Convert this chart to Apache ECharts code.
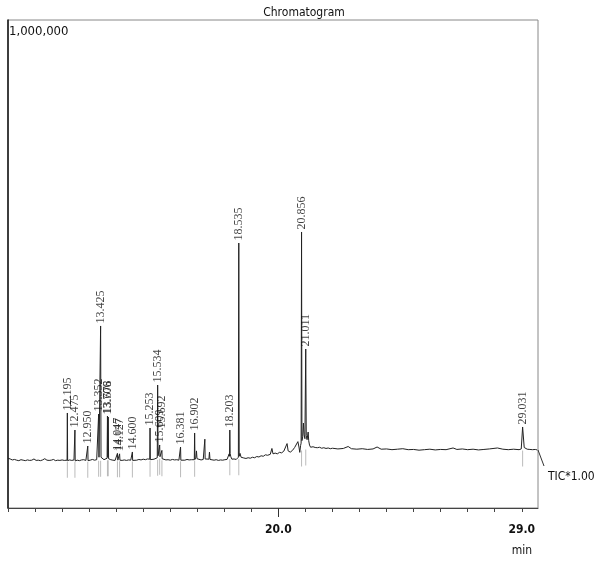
<!DOCTYPE html>
<html>
<head>
<meta charset="utf-8">
<script src="https://cdn.jsdelivr.net/npm/echarts@6/dist/echarts.min.js"></script>
<style>
html,body{margin:0;padding:0;background:#fff;}
#chart{width:600px;height:567px;}
</style>
</head>
<body>
<div id="chart"></div>
<script>
// ---- data ----
// TIC trace: [retention time (min), intensity]
const trace = [
[10.00,102000],[10.08,100500],[10.16,98500],[10.24,99500],[10.32,98000],[10.40,97000],[10.48,99000],[10.56,98000],[10.64,97000],[10.72,98500],[10.80,97500],[10.88,98000],[10.96,100500],[11.04,97500],[11.12,98000],[11.20,97000],[11.28,98500],[11.36,101000],[11.44,98000],[11.52,97500],[11.60,98000],[11.68,99500],[11.76,97000],[11.84,98000],[11.92,97500],[12.00,98500],[12.08,97500],[12.15,98000],
[12.185,98000],[12.195,194700],[12.205,97000],
[12.28,98500],[12.36,97500],[12.44,98500],
[12.465,98000],[12.475,159800],[12.485,96500],
[12.56,98000],[12.64,97000],[12.72,98500],[12.80,99000],[12.88,97500],
[12.94,98500],[12.950,127000],[12.96,97000],
[13.04,98000],[13.12,99500],[13.20,98000],[13.28,99000],
[13.34,101000],[13.352,192600],[13.365,104000],[13.40,103000],[13.425,373000],[13.44,104000],[13.48,100000],
[13.55,99000],[13.62,100500],
[13.665,102000],[13.678,188500],[13.69,104000],[13.706,186500],[13.72,101000],
[13.80,99000],[13.88,98000],[13.96,97500],[14.02,98500],
[14.04,99000],[14.047,112000],[14.06,98000],[14.10,100000],[14.127,111000],[14.14,98000],
[14.22,97500],[14.30,98500],[14.38,97500],[14.46,98500],[14.54,98000],
[14.59,98500],[14.600,114800],[14.61,97500],
[14.68,99000],[14.76,98000],[14.84,99500],[14.92,98500],[15.00,100000],[15.08,99000],[15.16,100500],[15.22,99000],
[15.243,100000],[15.253,163900],[15.263,99000],
[15.32,101000],[15.40,100000],[15.47,102000],
[15.52,103000],[15.534,252000],[15.55,107000],[15.575,110000],[15.59,106000],[15.609,129100],[15.62,105000],[15.65,108000],[15.67,103000],[15.692,118000],[15.70,101000],
[15.76,99500],[15.84,98500],[15.92,99000],[16.00,98000],[16.08,99500],[16.16,98500],[16.24,99000],[16.32,98000],
[16.37,98500],[16.381,125000],[16.392,98000],
[16.46,99000],[16.54,98000],[16.62,99500],[16.70,98500],[16.78,99000],[16.85,98500],
[16.89,99000],[16.902,153700],[16.914,99500],[16.95,104000],[16.97,117000],[16.99,101000],
[17.06,99000],[17.14,98500],[17.22,99500],
[17.27,100000],[17.28,141000],[17.29,100500],
[17.36,99000],[17.43,100000],[17.45,114500],[17.47,99500],
[17.54,98500],[17.62,98000],[17.70,99000],[17.78,97500],[17.86,98500],[17.94,98000],[18.02,99000],[18.10,99500],
[18.15,102000],[18.18,111000],[18.192,106000],[18.203,159800],[18.215,112000],[18.24,105000],[18.28,100000],
[18.36,100500],[18.44,99500],[18.50,102000],
[18.52,104000],[18.535,543000],[18.55,106000],[18.58,112000],[18.62,104000],[18.66,101000],
[18.72,102500],[18.80,101500],[18.88,103000],[18.96,102000],[19.04,104000],[19.12,103000],[19.20,105500],[19.28,104500],[19.36,107000],[19.44,106000],[19.52,109000],[19.60,108000],[19.66,112000],[19.70,110000],[19.76,122000],[19.80,111000],[19.88,112500],[19.96,111000],[20.04,114000],[20.12,113000],[20.20,116500],[20.26,118000],[20.32,132000],[20.36,117000],[20.44,114500],[20.52,118000],[20.60,124000],[20.66,122000],[20.72,136000],[20.76,125000],[20.79,114000],[20.82,128000],
[20.84,133000],[20.856,565600],[20.87,138000],[20.90,146000],[20.925,174000],[20.95,150000],[20.98,142000],[21.011,325800],[21.03,148000],[21.06,140000],[21.10,155700],[21.12,138000],[21.15,129000],[21.19,124500],
[21.28,125500],[21.36,124000],[21.44,123500],[21.52,124500],[21.60,122500],[21.68,123500],[21.76,122000],[21.84,123000],[21.92,121500],[22.00,122500],
[22.2,121000],[22.4,122000],[22.58,126000],[22.7,121500],[22.9,120500],[23.1,121500],[23.3,120000],[23.5,121000],[23.65,125000],[23.8,120500],[24.0,121000],[24.2,119500],[24.4,120500],[24.6,121500],[24.8,119500],[25.0,120000],[25.2,118500],[25.4,119500],[25.6,120500],[25.8,119000],[26.0,120000],[26.2,119500],[26.46,123000],[26.6,120000],[26.8,121000],[27.0,119500],[27.2,120500],[27.4,119000],[27.6,120000],[27.8,121000],[28.1,123000],[28.3,120500],[28.5,119500],[28.7,120500],[28.9,119500],
[28.98,121000],[29.031,166000],[29.09,124000],[29.12,121000],[29.2,120500],[29.3,120000],[29.4,119500],[29.5,120000],[29.57,119000]
];

// labelled peaks
const peakLabels  = ["12.195","12.475","12.950","13.352","13.425","13.678","13.706","14.047","14.127","14.600","15.253","15.534","15.609","15.692","16.381","16.902","18.203","18.535","20.856","21.011","29.031"];
const peakTimes   = [12.195,12.475,12.950,13.352,13.425,13.678,13.706,14.047,14.127,14.600,15.253,15.534,15.609,15.692,16.381,16.902,18.203,18.535,20.856,21.011,29.031];
const peakHeights = [194700,159800,127000,192600,373000,188500,186500,112000,111000,114800,163900,252000,129100,139300,125000,153700,159800,543000,565600,325800,166000];
const peakFoot    = [97000,97000,97000,99000,99000,100000,100000,98000,98000,97500,99000,101000,103000,100000,98000,99000,102000,102000,120000,122000,120000];
// label printed beside (not above) its peak to avoid overlap
const shiftedLabels = ["15.692"];

// axis ticks
const xTicks = [10,11,12,13,14,15,16,17,18,19,20,21,22,23,24,25,26,27,28,29];
const xLabelValues = [20,29];
const xLongTicks = [20];
const yMaxLabel = [1000000];

const narrow = "'Liberation Sans Narrow','DejaVu Sans Condensed','Arial Narrow',sans-serif";
const serif = "'Liberation Serif','DejaVu Serif',serif";

const peakPoints = peakTimes.map((t,i)=>[t, peakHeights[i], peakLabels[i]]);
const labelStyle = {show:true, formatter:p=>p.data[2], position:'top', distance:2, rotate:90, align:'left', verticalAlign:'middle', fontFamily:serif, fontSize:12, color:'#111'};

const chart = echarts.init(document.getElementById('chart'), null, {renderer:'canvas'});
chart.setOption({
  animation:false,
  backgroundColor:'#fff',
  grid:{left:8, right:62, top:20, bottom:59, show:true, borderColor:'#888', borderWidth:1},
  xAxis:[{
    type:'value', min:10, max:29.6,
    axisLine:{show:true, lineStyle:{color:'#444', width:1}},
    axisTick:{show:true, customValues:xTicks, length:4, lineStyle:{color:'#444'}},
    axisLabel:{show:true, customValues:xLabelValues, formatter:v=>Number(v).toFixed(1), fontSize:12, fontWeight:'bold', color:'#111', fontFamily:narrow, margin:16},
    splitLine:{show:false}
  },{
    type:'value', min:10, max:29.6, position:'bottom',
    axisLine:{show:false},
    axisTick:{show:true, customValues:xLongTicks, length:9, lineStyle:{color:'#333'}},
    axisLabel:{show:false},
    splitLine:{show:false}
  }],
  yAxis:{
    type:'value', min:0, max:1000000,
    axisLine:{show:true, lineStyle:{color:'#111', width:1.5}},
    axisTick:{show:false},
    splitLine:{show:false},
    axisLabel:{show:true, inside:true, customValues:yMaxLabel, formatter:()=> '1,000,000', verticalAlign:'top', padding:[5,0,0,0], margin:1, fontSize:13, color:'#111', fontFamily:narrow}
  },
  series:[{
    type:'line', data:trace, showSymbol:false, symbol:'none',
    lineStyle:{color:'#222', width:1}, z:3, silent:true
  },{
    type:'scatter', data:peakTimes.map((t,i)=>[t, peakFoot[i]]),
    symbol:'rect', symbolSize:[1,16], symbolOffset:[0,9],
    itemStyle:{color:'#aaa'}, z:2, silent:true
  },{
    type:'scatter',
    data:peakPoints.filter(p=>shiftedLabels.indexOf(p[2])<0),
    symbolSize:1, itemStyle:{color:'rgba(0,0,0,0)'},
    label:labelStyle,
    labelLayout:{hideOverlap:false},
    z:5, silent:true
  },{
    type:'scatter',
    data:peakPoints.filter(p=>shiftedLabels.indexOf(p[2])>=0),
    symbolSize:1, itemStyle:{color:'rgba(0,0,0,0)'},
    label:Object.assign({}, labelStyle, {offset:[9,0]}),
    labelLayout:{hideOverlap:false, dx:9},
    z:5, silent:true
  }],
  graphic:[
    {type:'text', x:304, y:13, style:{text:'Chromatogram', fill:'#111', font:"12px "+narrow, textAlign:'center', textVerticalAlign:'middle'}},
    {type:'text', x:522, y:551, style:{text:'min', fill:'#111', font:"12px "+narrow, textAlign:'center', textVerticalAlign:'middle'}},
    {type:'text', x:548, y:477, style:{text:'TIC*1.00', fill:'#111', font:"12px "+narrow, textAlign:'left', textVerticalAlign:'middle'}},
    {type:'line', shape:{x1:538, y1:450, x2:544, y2:466}, style:{stroke:'#333', lineWidth:1}}
  ]
});
</script>
</body>
</html>
